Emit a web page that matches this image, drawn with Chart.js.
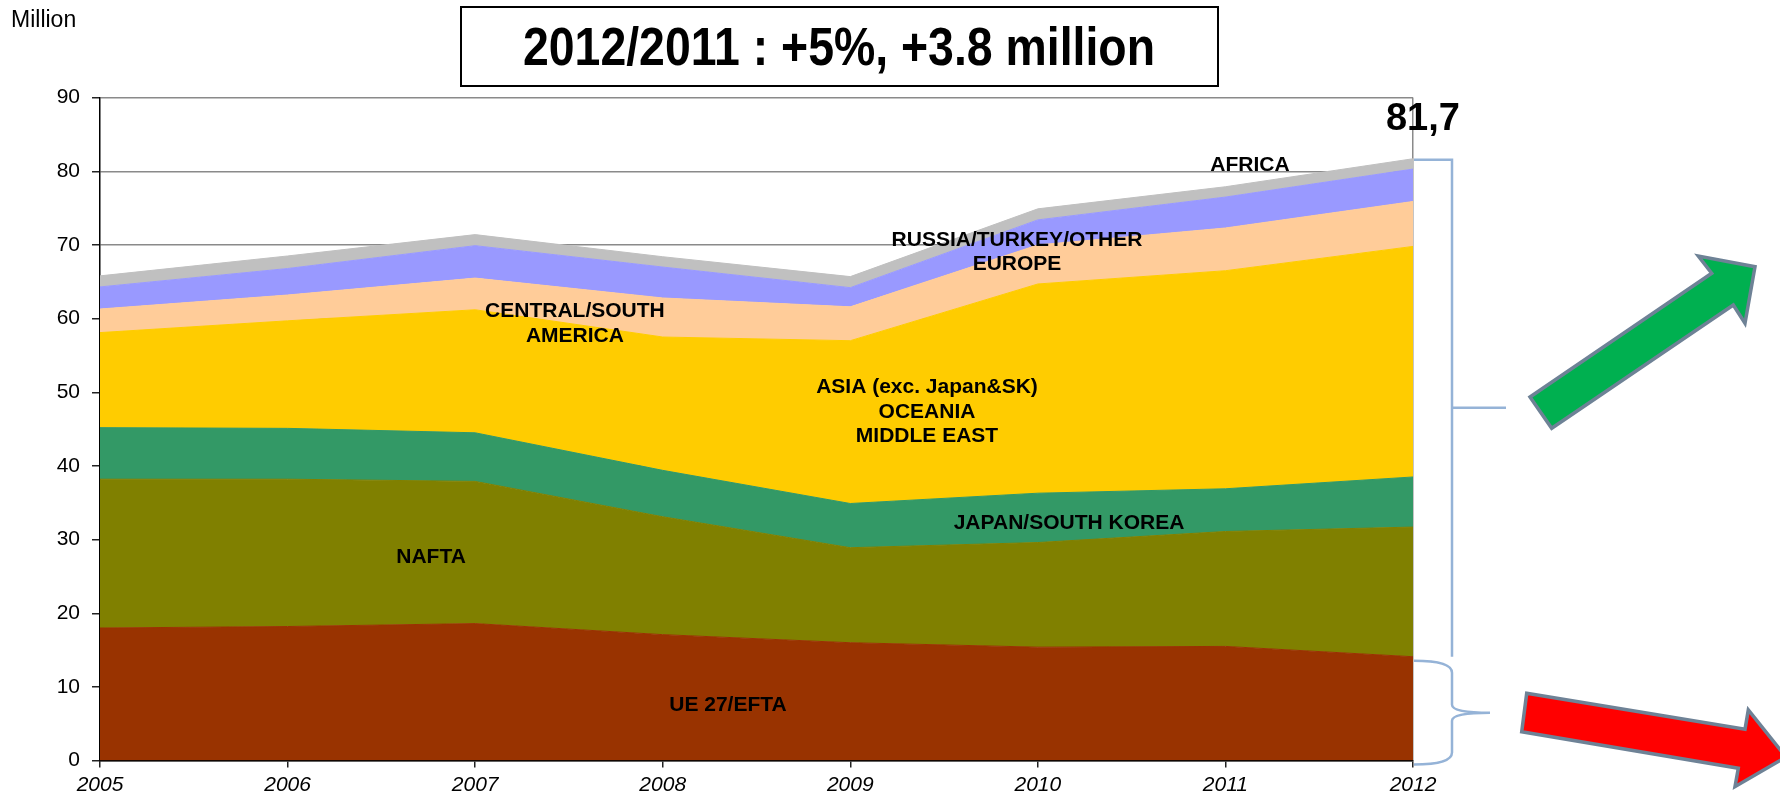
<!DOCTYPE html>
<html>
<head>
<meta charset="utf-8">
<script src="https://cdn.jsdelivr.net/npm/chart.js@4/dist/chart.umd.min.js"></script>
<style>
  html, body { margin: 0; padding: 0; background: #fff; }
  #wrap { width: 1780px; height: 797px; }
</style>
</head>
<body>
<div id="wrap"><canvas id="production" width="1780" height="797"></canvas></div>
<script>
// world production by region, millions of vehicles (stacked, bottom to top)
const years     = ['2005', '2006', '2007', '2008', '2009', '2010', '2011', '2012'];
const ueEfta    = [18.0, 18.2, 18.6, 17.1, 16.0, 15.4, 15.5, 14.1];
const nafta     = [20.2, 20.0, 19.3, 16.0, 12.9, 14.2, 15.6, 17.6];
const japanSk   = [7.0, 6.9, 6.6, 6.3, 6.0, 6.7, 5.8, 6.8];
const asia      = [12.9, 14.6, 16.7, 18.1, 22.1, 28.4, 29.6, 31.3];
const csAmerica = [3.2, 3.5, 4.3, 5.3, 4.6, 5.3, 5.8, 6.1];
const russiaEu  = [3.0, 3.6, 4.4, 4.2, 2.6, 3.4, 4.2, 4.4];
const africa    = [1.5, 1.7, 1.5, 1.4, 1.5, 1.5, 1.4, 1.4];
const yTicks    = [0, 10, 20, 30, 40, 50, 60, 70, 80, 90];

const FONT = '"Liberation Sans", Arial, sans-serif';

const series = [
    { label: 'UE 27/EFTA', data: ueEfta, color: '#993300' },
    { label: 'NAFTA', data: nafta, color: '#808000' },
    { label: 'JAPAN/SOUTH KOREA', data: japanSk, color: '#339966' },
    { label: 'ASIA (exc. Japan&SK) OCEANIA MIDDLE EAST', data: asia, color: '#FFCC00' },
    { label: 'CENTRAL/SOUTH AMERICA', data: csAmerica, color: '#FFCC99' },
    { label: 'RUSSIA/TURKEY/OTHER EUROPE', data: russiaEu, color: '#9999FF' },
    { label: 'AFRICA', data: africa, color: '#C0C0C0' }
];

// totals per year, used for the headline and the end value
const totals = years.map((_, i) => series.reduce((s, d) => s + d.data[i], 0));
const last = totals[totals.length - 1];
const prev = totals[totals.length - 2];
const headline = years[years.length - 1] + '/' + years[years.length - 2] + ' : +' +
    Math.round((last - prev) / prev * 100) + '%, +' + (last - prev).toFixed(1) + ' million';

// region names written inside the areas: [category position, value]
const regionLabels = [
    { lines: ['NAFTA'], at: [1.765, 27.6] },
    { lines: ['UE 27/EFTA'], at: [3.348, 7.55] },
    { lines: ['CENTRAL/SOUTH', 'AMERICA'], at: [2.532, 59.3] },
    { lines: ['ASIA (exc. Japan&SK)', 'OCEANIA', 'MIDDLE EAST'], at: [4.409, 47.3] },
    { lines: ['JAPAN/SOUTH KOREA'], at: [5.166, 32.2] },
    { lines: ['RUSSIA/TURKEY/OTHER', 'EUROPE'], at: [4.889, 69.0] },
    { lines: ['AFRICA'], at: [6.131, 80.85] }
];

function drawArrow(ctx, pts, fill) {
    ctx.beginPath();
    ctx.moveTo(pts[0][0], pts[0][1]);
    for (let i = 1; i < pts.length; i++) ctx.lineTo(pts[i][0], pts[i][1]);
    ctx.closePath();
    ctx.fillStyle = fill;
    ctx.fill();
    ctx.lineWidth = 3.5;
    ctx.lineJoin = 'miter';
    ctx.strokeStyle = '#6E8296';
    ctx.stroke();
}

const decorations = {
    id: 'decorations',
    afterDraw(chart) {
        const { ctx, chartArea } = chart;
        const x = chart.scales.x, y = chart.scales.y;
        ctx.save();

        // unit label
        ctx.fillStyle = '#000';
        ctx.font = '23px ' + FONT;
        ctx.textAlign = 'left';
        ctx.textBaseline = 'middle';
        ctx.fillText('Million', 11, 21);

        // headline box
        ctx.lineWidth = 2;
        ctx.strokeStyle = '#000';
        ctx.strokeRect(461, 7, 757, 79);
        ctx.font = 'bold 54px "Liberation Sans Narrow", "Liberation Sans", sans-serif';
        ctx.textAlign = 'center';
        const w = ctx.measureText(headline).width;
        ctx.save();
        ctx.translate(839, 50);
        ctx.scale(632 / w, 1);
        ctx.fillText(headline, 0, 0);
        ctx.restore();

        // region names
        ctx.font = 'bold 21px ' + FONT;
        regionLabels.forEach(r => {
            const cx = x.getPixelForValue(r.at[0]);
            const cy = y.getPixelForValue(r.at[1]);
            const lh = 24.5;
            r.lines.forEach((t, i) => {
                ctx.fillText(t, cx, cy + (i - (r.lines.length - 1) / 2) * lh);
            });
        });

        // end value
        ctx.font = 'bold 38px ' + FONT;
        ctx.fillText(last.toFixed(1).replace('.', ','), x.getPixelForValue(7.053), y.getPixelForValue(87.0));

        // brackets on the right of the last year
        const xr = chartArea.right + 1;
        const spine = xr + 38;
        const yTop = y.getPixelForValue(last);
        const yMid = y.getPixelForValue(ueEfta[ueEfta.length - 1]);
        const yZero = y.getPixelForValue(0);
        ctx.strokeStyle = '#95B3D7';
        ctx.lineWidth = 2.5;
        ctx.beginPath();
        ctx.moveTo(xr, yTop + 1);
        ctx.lineTo(spine, yTop + 1);
        ctx.lineTo(spine, yMid);
        ctx.moveTo(spine, (yTop + yMid) / 2);
        ctx.lineTo(spine + 54, (yTop + yMid) / 2);
        ctx.stroke();

        const bTop = yMid + 4, bBot = yZero + 4, bMid = (bTop + bBot) / 2;
        ctx.beginPath();
        ctx.moveTo(xr, bTop);
        ctx.quadraticCurveTo(spine, bTop, spine, bTop + 12);
        ctx.lineTo(spine, bMid - 8);
        ctx.quadraticCurveTo(spine, bMid, spine + 38, bMid);
        ctx.quadraticCurveTo(spine, bMid, spine, bMid + 8);
        ctx.lineTo(spine, bBot - 12);
        ctx.quadraticCurveTo(spine, bBot, xr, bBot);
        ctx.stroke();

        // growth / decline arrows
        drawArrow(ctx, [[1530, 397], [1711.7, 273.3], [1698.3, 256], [1755, 266.7],
            [1745, 323.3], [1733.3, 305], [1551.7, 428.3]], '#00B050');
        drawArrow(ctx, [[1526.7, 693.3], [1745, 729.3], [1748.3, 710], [1786, 757],
            [1735, 786.7], [1738.3, 768.3], [1521.7, 731.7]], '#FF0000');

        ctx.restore();
    }
};

new Chart(document.getElementById('production'), {
    type: 'line',
    data: {
        labels: years,
        datasets: series.map((s, i) => ({
            label: s.label,
            data: s.data,
            backgroundColor: s.color,
            borderColor: s.color,
            borderWidth: 1,
            pointRadius: 0,
            tension: 0,
            fill: i === 0 ? 'origin' : '-1'
        }))
    },
    options: {
        responsive: false,
        animation: false,
        devicePixelRatio: 1,
        layout: { padding: { left: 0, top: 97.6, right: 367, bottom: 0 } },
        plugins: {
            legend: { display: false },
            tooltip: { enabled: false },
            title: { display: false }
        },
        scales: {
            x: {
                offset: false,
                grid: {
                    color: c => c.index === years.length - 1 ? '#8a8a8a' : 'rgba(0,0,0,0)',
                    lineWidth: 1.5,
                    tickColor: '#222',
                    tickLength: 7
                },
                border: { color: '#000', width: 1.5 },
                ticks: {
                    color: '#000',
                    font: { family: FONT, size: 21, style: 'italic' },
                    padding: 5,
                    maxRotation: 0,
                    autoSkip: false
                },
                afterFit: s => { s.height = 36.4; s.paddingLeft = 0; s.paddingRight = 0; }
            },
            y: {
                stacked: true,
                min: 0,
                max: 90,
                afterBuildTicks: s => { s.ticks = yTicks.map(v => ({ value: v })); },
                grid: { color: '#8a8a8a', lineWidth: 1.5, tickColor: '#222', tickLength: 8 },
                border: { color: '#000', width: 1.5 },
                ticks: { color: '#000', font: { family: FONT, size: 21 }, padding: 12 },
                afterFit: s => { s.width = 100; s.paddingTop = 0; s.paddingBottom = 0; }
            }
        }
    },
    plugins: [decorations]
});
</script>
</body>
</html>
